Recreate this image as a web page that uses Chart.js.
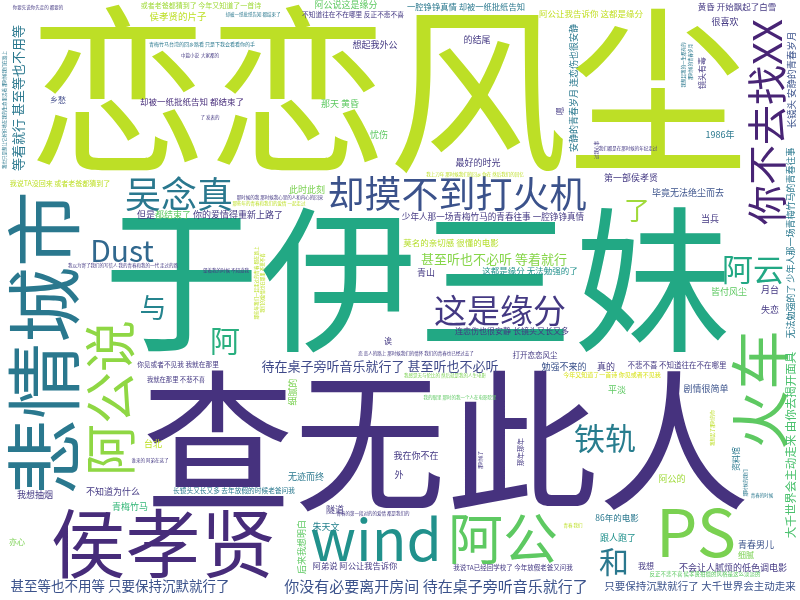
<!DOCTYPE html>
<html lang="zh">
<head>
<meta charset="utf-8">
<title>恋恋风尘 词云</title>
<script src="https://cdn.jsdelivr.net/npm/chart.js@4.4.1/dist/chart.umd.min.js"></script>
<style>
  html, body { margin: 0; padding: 0; background: #ffffff; }
  #wrap { width: 800px; height: 600px; }
</style>
</head>
<body>
<div id="wrap"><canvas id="cloud" width="800" height="600"></canvas></div>
<script>
// --- Words (same order in every array below) ---
const words = [
    '恋恋风尘', '于伊三妹', '查无此人', '悲情城市', '你不去找XX', '火车', '侯孝贤', 'wind', 'PS', '阿公',
    '阿公说', '却摸不到打火机', '吴念真', 'Dust', '这是缘分', '铁轨', '和', '与', '阿', '阿云',
    '了', '等着就行 甚至等也不用等', '甚至等也不用等 只要保持沉默就行了', '你没有必要离开房间 待在桌子旁听音乐就行了', '只要保持沉默就行了 大千世界会主动走来',
    '待在桌子旁听音乐就行了 甚至听也不必听', '甚至听也不必听 等着就行', '大千世界会主动走来 由你去揭开面具', '无法勉强的了 少年人那一场青梅竹马的青春往事', '长镜头 安静的青春岁月',
    '少年人那一场青梅竹马的青春往事 一腔铮铮真情', '这都是缘分 无法勉强的了', '莫名的亲切感 很懂的电影', '青山', '连恋伤也很安静 长镜头又长又多',
    '打开恋恋风尘', '勉强不来的', '今年又知道了一首诗 你见或者不见我', '或者老爸都猜到了 今年又知道了一首诗', '侯孝贤的片子',
    '我说TA没回来 或者老爸都猜到了', '乡愁', '却被一纸批纸告知 都结束了', '阿公说这是缘分', '不知道往在不在哪里 反正不悲不喜',
    '想起我外公', '那天 黄昏', '忧伤', '此时此刻', '一腔铮铮真情 却被一纸批纸告知',
    '阿公让我告诉你 这都是缘分', '的结尾', '安静的青春岁月 连恋伤也很安静', '嗯', '最好的时光',
    '黄昏 开始飘起了白雪', '很喜欢', '镜头有毒', '1986年', '第一部侯孝贤',
    '毕竟无法绝尘而去', '但是', '都结束了', '你的爱情得重新上路了', '你见或者不见我 我就在那里',
    '我就在那里 不悲不喜', '诶', '细腻的', '当兵', '皆付风尘',
    '月台', '失恋', '不悲不喜 不知道往在不在哪里', '真的', '平淡',
    '剧情很简单', '台北', '我想抽烟', '不知道为什么', '青梅竹马',
    '长镜头又长又多 去年放假的时候老爸问我', '亦心', '无迹而终', '我在你不在', '外',
    '隧道', '朱天文', '后来我想明白', '阿弟说 阿公让我告诉你', '我说TA已经回学校了 今年放假老爸又问我',
    '86年的电影', '阿公的', '资料馆', '跟人跑了', '青春男儿',
    '细腻', '我想', '不会让人腻烦的低色调电影', '反正不悲不喜 侯孝贤拍摄的风格是这么淡淡的', '那年那年',
    '你要先说你先走的 都要的', '青梅竹马台湾的回乡路看 只是下我会看看你的手', '却被一纸批纸告知 都结束了', '那时候的我 那时候我心里的人和内心的回来', '我上刀年 那时候我们的回乡 你在 然后我们的回忆',
    '我想起我的一生都有的', '那时候的青春岁月', '我们都是在那时候的年纪走过', '我以为寄了我们的写信人 我的青春和我的一代 走过的路', '那些年我们一起走过的青春 都在路上',
    '我们的爱情也在那里 不悲不喜', '望着我的时候 不知道我', '那些年的青春和我们的爱情 一起走过', '恋 恋人的路上 那时候我们的情怀 我们的青春也已经过去了', '我感觉无与伦比的 然后就是我的人生电影',
    '我的眼里 那时的我一个人在电影院里', '谁来的 阿弟在这了', '青春的第一段对的的爱情 都是我们的', '那时候了', '青春 我们',
    '我想起了那时的你', '那时候的我们', '青春的时候', '我也只是想让它好好地在我的生命里活着 那时候我们在路上', '过我心事',
    '中篇小说', '大家都的', '了 发表的'
];

// --- Word centres in the 800 x 600 cloud layout ---
const posX = [
    388, 417, 446, 44, 767, 760, 163, 376, 696, 503,
    110, 457, 179, 122, 500, 605, 614, 153, 225, 753,
    637, 18, 120, 436, 700, 380, 494, 791, 791, 791,
    493, 530, 451, 426, 512, 535, 564, 612, 201, 178,
    60, 58, 192, 346, 353, 375, 340, 379, 307, 466,
    591, 477, 574, 560, 478, 737, 725, 702, 720, 631,
    688, 146, 173, 238, 178, 176, 388, 293, 710, 729,
    770, 770, 677, 606, 617, 706, 153, 35, 113, 130,
    234, 17, 306, 416, 399, 335, 326, 302, 355, 513,
    617, 672, 736, 618, 756, 746, 646, 733, 705, 520,
    38, 202, 253, 280, 475, 683, 690, 628, 123, 256,
    262, 226, 269, 416, 445, 460, 150, 373, 480, 573,
    712, 745, 762, 4, 596, 190, 210, 210
];
const posY = [
    90, 279, 441, 343, 122, 390, 543, 539, 532, 538,
    398, 194, 194, 251, 310, 438, 562, 308, 341, 269,
    210, 98, 586, 586, 586, 366, 259, 445, 243, 80,
    217, 271, 243, 273, 331, 355, 367, 375, 5, 16,
    183, 100, 102, 5, 14, 45, 104, 135, 190, 7,
    14, 40, 88, 111, 163, 7, 22, 73, 135, 178,
    193, 215, 215, 215, 364, 380, 341, 392, 219, 292,
    290, 310, 365, 367, 390, 389, 444, 495, 492, 507,
    490, 542, 477, 456, 475, 510, 527, 547, 566, 568,
    518, 479, 459, 538, 545, 555, 566, 568, 574, 452,
    7, 44, 14, 197, 174, 65, 62, 148, 265, 283,
    283, 270, 203, 353, 375, 397, 460, 513, 460, 525,
    428, 483, 495, 110, 150, 55, 55, 117
];

// --- Word weights (drawn as font size) ---
const weights = [
    180, 157, 152, 76, 40, 60, 75, 57, 66, 55,
    52, 37, 36, 30, 33, 31, 30, 27, 30, 31,
    26, 13, 13.5, 15, 10.5, 13, 13, 11.5, 9, 9.5,
    8.6, 8.5, 8.5, 9, 8, 7.5, 9, 6, 7, 9.5,
    7, 8, 8.5, 9, 6.7, 9, 9, 9, 9, 8.3,
    8.5, 9, 9, 8, 9, 8.5, 9, 8, 9, 9,
    9, 9, 9, 9, 6.7, 6.3, 8, 9, 9, 9,
    9, 9, 7.5, 9, 9, 9, 9, 9, 9, 9,
    6.7, 8, 9, 9, 9, 9, 9, 9, 8.3, 6.5,
    8.5, 9, 8, 9, 9, 8, 8, 9, 5.5, 7,
    4.5, 5, 4.5, 4.5, 4.5, 4.5, 4.5, 4.5, 4.5, 4.5,
    4.5, 4.5, 4.5, 4.5, 4.5, 4.5, 4.5, 4.5, 4.5, 4.5,
    4.5, 4.5, 4.5, 4.5, 4.5, 4.5, 4.5, 4.5
];

// words that run bottom-to-top
const verticalWords = [3, 4, 5, 10, 21, 27, 28, 29, 52, 53, 57, 67, 87, 92, 99, 105, 106, 109, 110, 118, 120, 121, 123, 124];

// viridis-like colour per word
const wordColors = [
    '#bddf26', '#22a884', '#46327e', '#2a788e', '#482475', '#5ec962', '#472c7a', '#21918c', '#7ad151', '#5ec962',
    '#8fd744', '#3b528b', '#2a788e', '#31688e', '#443983', '#287d8e', '#2a788e', '#25848e', '#29af7f', '#22a884',
    '#a0da39', '#2a788e', '#3b528b', '#3b528b', '#3b528b', '#3e4989', '#86d549', '#4ac16d', '#2a788e', '#3b528b',
    '#443983', '#21918c', '#b5de2b', '#443983', '#443983', '#443983', '#3b528b', '#d8e219', '#a0da39', '#bddf26',
    '#bddf26', '#3e4989', '#472d7b', '#5ec962', '#443983', '#443983', '#5ec962', '#5ec962', '#7ad151', '#2a788e',
    '#c2df23', '#443983', '#2a788e', '#443983', '#443983', '#443983', '#443983', '#443983', '#2a788e', '#443983',
    '#3b528b', '#443983', '#5ec962', '#443983', '#443983', '#443983', '#443983', '#7ad151', '#443983', '#5ec962',
    '#443983', '#443983', '#443983', '#443983', '#5ec962', '#3b528b', '#bddf26', '#443983', '#443983', '#35b779',
    '#2a788e', '#7ad151', '#2a788e', '#443983', '#443983', '#443983', '#26828e', '#5ec962', '#443983', '#443983',
    '#2a788e', '#a0da39', '#2a788e', '#21918c', '#3b528b', '#7ad151', '#443983', '#443983', '#5ec962', '#443983',
    '#443983', '#2a788e', '#2a788e', '#443983', '#bddf26', '#2a788e', '#2a788e', '#443983', '#443983', '#bddf26',
    '#bddf26', '#443983', '#bddf26', '#443983', '#7ad151', '#5ec962', '#443983', '#443983', '#443983', '#bddf26',
    '#bddf26', '#2a788e', '#2a788e', '#2a788e', '#443983', '#443983', '#443983', '#443983'
];

// --- Plugin: paint each word at its point ---
const wordPlugin = {
    id: 'wordLabels',
    afterDatasetsDraw(chart) {
        const ctx = chart.ctx;
        const meta = chart.getDatasetMeta(0);
        meta.data.forEach((pt, i) => {
            ctx.save();
            ctx.translate(pt.x, pt.y);
            if (verticalWords.includes(i)) {
                ctx.rotate(-Math.PI / 2);
            }
            ctx.font = `${weights[i]}px "Noto Sans CJK SC", "Noto Sans", sans-serif`;
            ctx.fillStyle = wordColors[i];
            ctx.textAlign = 'center';
            ctx.textBaseline = 'middle';
            ctx.fillText(words[i], 0, 0);
            ctx.restore();
        });
    }
};

const ctx = document.getElementById('cloud').getContext('2d');
new Chart(ctx, {
    type: 'scatter',
    data: {
        datasets: [{
            data: words.map((w, i) => ({ x: posX[i], y: posY[i] })),
            pointRadius: 0,
            pointHoverRadius: 0
        }]
    },
    options: {
        responsive: false,
        animation: false,
        devicePixelRatio: 1,
        layout: { padding: 0 },
        plugins: {
            legend: { display: false },
            tooltip: { enabled: false }
        },
        scales: {
            x: { type: 'linear', min: 0, max: 800, display: false },
            y: { type: 'linear', min: 0, max: 600, reverse: true, display: false }
        }
    },
    plugins: [wordPlugin]
});
</script>
</body>
</html>
